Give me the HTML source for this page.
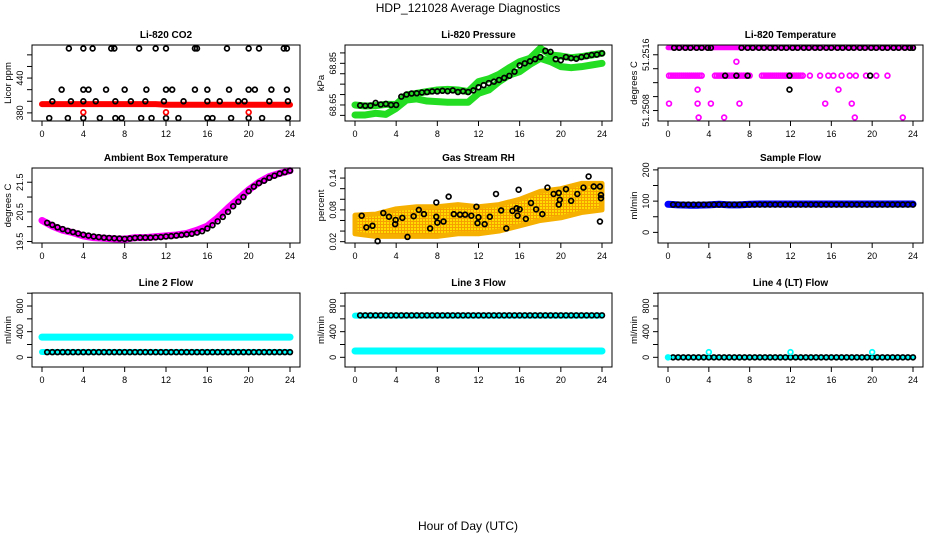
<!DOCTYPE html>
<html><head><meta charset="utf-8"><style>
html,body{margin:0;padding:0;background:#fff;}
svg{display:block;font-family:"Liberation Sans",sans-serif;}
</style></head><body>
<svg id="chart" width="936" height="540" viewBox="0 0 936 540" xmlns="http://www.w3.org/2000/svg">
<text x="468" y="12" text-anchor="middle" font-size="12">HDP_121028  Average Diagnostics</text>
<text x="468" y="530" text-anchor="middle" font-size="12">Hour of Day (UTC)</text>
</svg>
<script>
// ---------- data ----------
const xTicks = [0,4,8,12,16,20,24];
const halfHours = [0.5,1,1.5,2,2.5,3,3.5,4,4.5,5,5.5,6,6.5,7,7.5,8,8.5,9,9.5,10,10.5,11,11.5,12,12.5,13,13.5,14,14.5,15,15.5,16,16.5,17,17.5,18,18.5,19,19.5,20,20.5,21,21.5,22,22.5,23,23.5,24];
const hours = [0,1,2,3,4,5,6,7,8,9,10,11,12,13,14,15,16,17,18,19,20,21,22,23,24];

// CO2
const co2Ticks = [380,400,420,440,460,480];
const co2Labels = [380,440];
const co2Red = [395,395,395,395,395,395,395,395,395,395,395,395,394,394,394,394,394,394,394,394,394,394,394,394,394];
const co2TopHours = [2.6,4,4.9,6.7,7,9.4,11,12,14.8,15,17.9,20,21,23.4,23.7];
const co2TopVals = [491,491,491,491,491,491,491,491,491,491,491,491,491,491,491];
const co2MidHours = [1.9,4,4.5,6.2,8,10.1,12,12.6,14.8,16,18.1,20,20.6,22.2,23.7];
const co2MidVals = [420,420,420,420,420,420,420,420,420,420,420,420,420,420,420];
const co2LowHours = [1,2.8,4,5.2,7.1,8.6,10,11.8,13.7,16,17.2,19,19.6,22,23.8];
const co2LowVals = [400,400,400,400,400,400,400,400,400,400,400,400,400,400,400];
const co2BotHours = [0.7,2.5,4,5.6,7.1,7.7,9.6,10.6,12,13.2,16,16.5,18.3,20,21.3,23.8];
const co2BotVals = [371,371,371,371,371,371,371,371,371,371,371,371,371,371,371,371];
const co2RedHours = [4,12,20];
const co2RedVals = [381,381,381];

// Pressure
const presTicks = [68.60,68.65,68.70,68.75,68.80,68.85,68.90];
const presLabels = [68.65,68.85];
const presUpper = [68.650,68.645,68.647,68.653,68.653,68.698,68.706,68.714,68.722,68.725,68.722,68.714,68.762,68.775,68.797,68.829,68.858,68.874,68.922,68.890,68.885,68.877,68.882,68.890,68.898];
const presLower = [68.602,68.602,68.610,68.605,68.634,68.674,68.679,68.669,68.666,68.663,68.663,68.663,68.706,68.722,68.762,68.794,68.810,68.845,68.874,68.858,68.834,68.829,68.834,68.842,68.850];
const presBlack = [68.648,68.646,68.647,68.660,68.652,68.655,68.650,68.650,68.690,68.700,68.705,68.706,68.710,68.712,68.715,68.715,68.718,68.716,68.720,68.712,68.716,68.712,68.720,68.735,68.745,68.755,68.762,68.770,68.780,68.790,68.810,68.840,68.850,68.860,68.870,68.880,68.910,68.905,68.870,68.865,68.880,68.875,68.872,68.880,68.885,68.890,68.892,68.898];

// Li-820 temperature (levels)
const tempTicks = [51.2508,51.2510,51.2512,51.2514,51.2516];
const tempLabels = [51.2508,51.2516];
const tempTopBand = [51.2517,51.2517,51.2517,51.2517,51.2517,51.2517,51.2517,51.2517,51.2517,51.2517,51.2517,51.2517,51.2517,51.2517,51.2517,51.2517,51.2517,51.2517,51.2517,51.2517,51.2517,51.2517,51.2517,51.2517,51.2517];
const tempTopBlackHours = [0.6,1.1,1.7,2.2,2.8,3.3,3.9,4.2,7.2,7.8,8.3,8.9,9.4,10,10.5,11.1,11.6,12.2,12.7,13.3,13.8,14.4,14.9,15.5,16,16.6,17.1,17.7,18.2,18.8,19.3,19.9,20.4,21,21.5,22.1,22.6,23.2,23.7,24];
const tempTopBlackVals = [51.2517,51.2517,51.2517,51.2517,51.2517,51.2517,51.2517,51.2517,51.2517,51.2517,51.2517,51.2517,51.2517,51.2517,51.2517,51.2517,51.2517,51.2517,51.2517,51.2517,51.2517,51.2517,51.2517,51.2517,51.2517,51.2517,51.2517,51.2517,51.2517,51.2517,51.2517,51.2517,51.2517,51.2517,51.2517,51.2517,51.2517,51.2517,51.2517,51.2517];
const tempMagHours = [0.1,0.3,0.5,0.7,0.9,1.1,1.3,1.5,1.7,1.9,2.1,2.3,2.5,2.7,2.9,3.1,3.3,4.6,4.8,5,5.2,5.4,5.6,5.8,6,6.2,6.4,6.6,6.8,7,7.2,7.4,7.6,7.8,8,9.2,9.4,9.6,9.8,10,10.2,10.4,10.6,10.8,11,11.2,11.4,11.6,11.8,12,12.2,12.4,12.6,12.8,13,13.2,13.9,14.9,15.7,16.2,17,17.8,18.4,19.4,20.4,21.5,6.7,2.9,16.7,0.1,2.9,4.2,7,15.4,18,3,5.5,18.3,23];
const tempMagVals = [51.2513,51.2513,51.2513,51.2513,51.2513,51.2513,51.2513,51.2513,51.2513,51.2513,51.2513,51.2513,51.2513,51.2513,51.2513,51.2513,51.2513,51.2513,51.2513,51.2513,51.2513,51.2513,51.2513,51.2513,51.2513,51.2513,51.2513,51.2513,51.2513,51.2513,51.2513,51.2513,51.2513,51.2513,51.2513,51.2513,51.2513,51.2513,51.2513,51.2513,51.2513,51.2513,51.2513,51.2513,51.2513,51.2513,51.2513,51.2513,51.2513,51.2513,51.2513,51.2513,51.2513,51.2513,51.2513,51.2513,51.2513,51.2513,51.2513,51.2513,51.2513,51.2513,51.2513,51.2513,51.2513,51.2513,51.2515,51.2511,51.2511,51.2509,51.2509,51.2509,51.2509,51.2509,51.2509,51.2507,51.2507,51.2507,51.2507];
const tempBlackHours = [5.6,6.7,7.8,11.9,19.8,11.9];
const tempBlackVals = [51.2513,51.2513,51.2513,51.2513,51.2513,51.2511];

// Ambient box temperature
const ambTicks = [19.5,20,20.5,21,21.5];
const ambLabels = [19.5,20.5,21.5];
const ambBand = [20.21,20.02,19.88,19.80,19.69,19.63,19.61,19.59,19.58,19.63,19.63,19.66,19.69,19.72,19.77,19.88,20.02,20.30,20.63,20.94,21.24,21.50,21.69,21.80,21.89];
const ambBlack = [20.13,20.06,19.98,19.92,19.86,19.82,19.77,19.73,19.70,19.67,19.65,19.63,19.62,19.61,19.60,19.59,19.60,19.62,19.63,19.63,19.63,19.64,19.65,19.67,19.68,19.70,19.72,19.74,19.76,19.80,19.85,19.94,20.05,20.18,20.33,20.50,20.69,20.84,21.00,21.20,21.35,21.47,21.55,21.65,21.72,21.79,21.84,21.89];

// Gas stream RH
const rhTicks = [0.02,0.04,0.06,0.08,0.10,0.12,0.14];
const rhLabels = [0.02,0.08,0.14];
const rhBandHours = [0,2,4,6,8,10,12,14,16,18,20,22,24];
const rhBandLow = [0.035,0.030,0.030,0.030,0.030,0.035,0.035,0.040,0.050,0.060,0.065,0.075,0.080];
const rhBandHigh = [0.070,0.072,0.082,0.086,0.086,0.090,0.086,0.090,0.100,0.115,0.120,0.130,0.130];
const rhHours = [0.65,1.1,1.7,2.2,2.75,3.3,3.9,3.95,4.6,5.1,5.7,6.2,6.7,7.3,7.9,7.9,8,8.6,9.1,9.6,10.2,10.7,11.3,11.8,11.9,12,12.6,13.1,13.7,14.2,14.7,15.3,15.7,15.9,15.8,16,16.6,17.1,17.6,18.2,18.7,19.3,19.8,19.8,19.9,20.5,21,21.6,22.2,22.7,23.2,23.8,23.8,23.9,23.9];
const rhVals = [0.069,0.047,0.050,0.021,0.074,0.067,0.053,0.061,0.065,0.029,0.068,0.080,0.072,0.045,0.094,0.067,0.056,0.058,0.105,0.072,0.071,0.071,0.069,0.086,0.055,0.066,0.053,0.067,0.110,0.079,0.045,0.078,0.083,0.118,0.069,0.081,0.063,0.093,0.081,0.072,0.122,0.110,0.112,0.090,0.099,0.119,0.097,0.110,0.122,0.143,0.124,0.124,0.058,0.108,0.102];

// Sample flow
const sfTicks = [0,50,100,150,200];
const sfLabels = [0,100,200];
const sfBlue = [90,88,87,87,88,90,88,88,90,91,91,91,91,91,91,91,91,91,91,91,91,91,91,91,91];
const sfBlack = [89,89,89,89,89,89,89,89,89,89,89,89,89,89,89,89,89,89,89,89,89,89,89,89,89,89,89,89,89,89,89,89,89,89,89,89,89,89,89,89,89,89,89,89,89,89,89,89];

// Line flows
const flowTicks = [0,200,400,600,800,1000];
const flowLabels = [0,400,800];
const l2CyanHigh = [315,315,315,315,315,315,315,315,315,315,315,315,315,315,315,315,315,315,315,315,315,315,315,315,315];
const l2CyanLow = [83,83,83,83,83,83,83,83,83,83,83,83,83,83,83,83,83,83,83,83,83,83,83,83,83];
const l2Black = [80,80,80,80,80,80,80,80,80,80,80,80,80,80,80,80,80,80,80,80,80,80,80,80,80,80,80,80,80,80,80,80,80,80,80,80,80,80,80,80,80,80,80,80,80,80,80,80];
const l3CyanHigh = [650,650,650,650,650,650,650,650,650,650,650,650,650,650,650,650,650,650,650,650,650,650,650,650,650];
const l3CyanLow = [98,98,98,98,98,98,98,98,98,98,98,98,98,98,98,98,98,98,98,98,98,98,98,98,98];
const l3Black = [655,655,655,655,655,655,655,655,655,655,655,655,655,655,655,655,655,655,655,655,655,655,655,655,655,655,655,655,655,655,655,655,655,655,655,655,655,655,655,655,655,655,655,655,655,655,655,655];
const l4Cyan = [0,0,0,0,0,0,0,0,0,0,0,0,0,0,0,0,0,0,0,0,0,0,0,0,0];
const l4Black = [0,0,0,0,0,0,0,0,0,0,0,0,0,0,0,0,0,0,0,0,0,0,0,0,0,0,0,0,0,0,0,0,0,0,0,0,0,0,0,0,0,0,0,0,0,0,0,0];
const l4SpikeHours = [0,4,12,20];
const l4SpikeVals = [0,80,80,80];

// ---------- drawing ----------
const NS = 'http://www.w3.org/2000/svg';
const svg = document.getElementById('chart');
function mk(tag, parent){ const e=document.createElementNS(NS,tag); parent.appendChild(e); return e; }

function panel(name, title, ylab, box, yDom, ticks, labels, fmt){
  const g = mk('g', svg);
  
  
  const xs = h => box.x0 + 10 + (box.x1 - box.x0 - 20) * h / 24;
  const ys = v => box.y1 - (v - yDom[0]) / (yDom[1] - yDom[0]) * (box.y1 - box.y0);
  const t = mk('text', g);
  
  
  t.setAttribute('x', (box.x0 + box.x1) / 2); t.setAttribute('y', box.y0 - 7);
  t.setAttribute('text-anchor', 'middle'); t.setAttribute('font-size', '10'); t.setAttribute('font-weight', 'bold');
  t.textContent = title;
  const yl = mk('text', g);
  
  
  const cy = (box.y0 + box.y1) / 2, lx = box.x0 - 21;
  yl.setAttribute('transform', `translate(${lx},${cy}) rotate(-90)`);
  yl.setAttribute('text-anchor', 'middle'); yl.setAttribute('font-size', '9.5');
  yl.textContent = ylab;
  const ax = mk('g', g);
  
  
  xTicks.forEach(h => {
    const l = mk('line', ax);
    
    
    l.setAttribute('x1', xs(h)); l.setAttribute('x2', xs(h)); l.setAttribute('y1', box.y1); l.setAttribute('y2', box.y1 + 5); l.setAttribute('stroke', '#000');
    const tl = mk('text', ax);
    
    
    tl.setAttribute('x', xs(h)); tl.setAttribute('y', box.y1 + 16); tl.setAttribute('text-anchor', 'middle'); tl.setAttribute('font-size', '9');
    tl.textContent = h;
  });
  const ay = mk('g', g);
  
  
  ticks.forEach(v => {
    const l = mk('line', ay);
    
    
    l.setAttribute('x1', box.x0 - 5); l.setAttribute('x2', box.x0); l.setAttribute('y1', ys(v)); l.setAttribute('y2', ys(v)); l.setAttribute('stroke', '#000');
  });
  labels.forEach(v => {
    const tl = mk('text', ay);
    
    
    tl.setAttribute('transform', `translate(${box.x0 - 9},${ys(v)}) rotate(-90)`);
    tl.setAttribute('text-anchor', 'middle'); tl.setAttribute('font-size', '9');
    tl.textContent = fmt ? fmt(v) : v;
  });
  const plot = mk('g', g);
  
  
  const frame = mk('rect', g);
  
  
  frame.setAttribute('x', box.x0); frame.setAttribute('y', box.y0); frame.setAttribute('width', box.x1 - box.x0); frame.setAttribute('height', box.y1 - box.y0);
  frame.setAttribute('fill', 'none'); frame.setAttribute('stroke', '#000');
  return {
    band(hs, vals, color, w){
      const p = mk('polyline', plot);
      
      
      p.setAttribute('points', hs.map((h, i) => xs(h) + ',' + ys(vals[i])).join(' '));
      p.setAttribute('fill', 'none'); p.setAttribute('stroke', color); p.setAttribute('stroke-width', w);
      p.setAttribute('stroke-linecap', 'round'); p.setAttribute('stroke-linejoin', 'round');
    },
    area(hs, lo, hi, fill){
      const p = mk('polygon', plot);
      
      
      const pts = hs.map((h, i) => xs(h) + ',' + ys(hi[i])).concat(hs.slice().reverse().map((h, j) => xs(h) + ',' + ys(lo[hs.length - 1 - j])));
      p.setAttribute('points', pts.join(' '));
      p.setAttribute('fill', fill); p.setAttribute('stroke', '#f5b000'); p.setAttribute('stroke-width', 5); p.setAttribute('stroke-linejoin', 'round');
    },
    points(hs, vals, color){
      hs.forEach((h, i) => {
        const c = mk('circle', plot);
        
        
        c.setAttribute('cx', xs(h)); c.setAttribute('cy', ys(vals[i])); c.setAttribute('r', 2.4);
        c.setAttribute('fill', 'none'); c.setAttribute('stroke', color); c.setAttribute('stroke-width', 1.7);
      });
    }
  };
}

const defs = mk('defs', svg);
defs.innerHTML = '<pattern id="dots" width="3" height="3" patternUnits="userSpaceOnUse"><rect width="3" height="3" fill="#f5a000"/><rect width="2" height="2" fill="#ffdd00"/></pattern>';

const R1 = [45,121], R2 = [168,243], R3 = [293,367];
const C1 = [32,300], C2 = [345,612], C3 = [658,923];
const B = (c, r) => ({x0: c[0], x1: c[1], y0: r[0], y1: r[1]});

let p;
p = panel('panel-co2', 'Li-820 CO2', 'Licor ppm', B(C1,R1), [366,497], co2Ticks, co2Labels);
p.band(hours, co2Red, '#ff0000', 6);
p.points(co2TopHours, co2TopVals, '#000');
p.points(co2MidHours, co2MidVals, '#000');
p.points(co2LowHours, co2LowVals, '#000');
p.points(co2BotHours, co2BotVals, '#000');
p.points(co2RedHours, co2RedVals, '#ff0000');

p = panel('panel-pressure', 'Li-820 Pressure', 'kPa', B(C2,R1), [68.573,68.938], presTicks, presLabels, v => v.toFixed(2));
p.band(hours, presUpper, '#22dd22', 7);
p.band(hours, presLower, '#22dd22', 7);
p.points(halfHours, presBlack, '#000');

p = panel('panel-li820-temp', 'Li-820 Temperature', 'degrees C', B(C3,R1), [51.25065,51.25174], tempTicks, tempLabels, v => v.toFixed(4));
p.band(hours, tempTopBand, '#ff00ff', 5);
p.points(tempMagHours, tempMagVals, '#ff00ff');
p.points(tempTopBlackHours, tempTopBlackVals, '#000');
p.points(tempBlackHours, tempBlackVals, '#000');

p = panel('panel-ambient-temp', 'Ambient Box Temperature', 'degrees C', B(C1,R2), [19.45,21.98], ambTicks, ambLabels);
p.band(hours, ambBand, '#ff00ff', 7);
p.points(halfHours, ambBlack, '#000');

p = panel('panel-rh', 'Gas Stream RH', 'percent', B(C2,R2), [0.0175,0.159], rhTicks, rhLabels, v => v.toFixed(2));
p.area(rhBandHours, rhBandLow, rhBandHigh, 'url(#dots)');
p.points(rhHours, rhVals, '#000');

p = panel('panel-sample-flow', 'Sample Flow', 'ml/min', B(C3,R2), [-34,206], sfTicks, sfLabels);
p.band(hours, sfBlue, '#0000ff', 7);
p.points(halfHours, sfBlack, '#000');

p = panel('panel-line2-flow', 'Line 2 Flow', 'ml/min', B(C1,R3), [-151,1003], flowTicks, flowLabels);
p.band(hours, l2CyanHigh, '#00ffff', 7);
p.band(hours, l2CyanLow, '#00ffff', 6);
p.points(halfHours, l2Black, '#000');

p = panel('panel-line3-flow', 'Line 3 Flow', 'ml/min', B(C2,R3), [-151,1003], flowTicks, flowLabels);
p.band(hours, l3CyanHigh, '#00ffff', 6);
p.band(hours, l3CyanLow, '#00ffff', 7);
p.points(halfHours, l3Black, '#000');

p = panel('panel-line4-flow', 'Line 4 (LT) Flow', 'ml/min', B(C3,R3), [-151,1003], flowTicks, flowLabels);
p.band(hours, l4Cyan, '#00ffff', 5);
p.points(halfHours, l4Black, '#000');
p.points(l4SpikeHours, l4SpikeVals, '#00ffff');
</script>
</body></html>
